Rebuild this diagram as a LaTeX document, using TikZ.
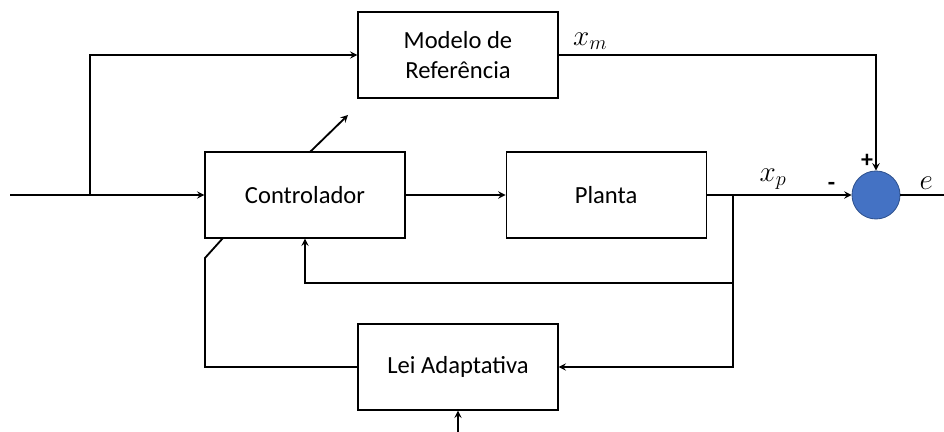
\documentclass[tikz,border=0pt]{standalone}
\usepackage{fontspec}
\setmainfont{Carlito}
\usepackage{tikz}
\usetikzlibrary{positioning,shapes,arrows}
\tikzstyle{block} = [rectangle, minimum width=5cm, minimum height=2.15cm, text centered, align=center, draw=black, line width=0.8pt, font=\fontsize{17.5}{21.5}\selectfont]
\tikzstyle{soma} = [circle, minimum size=1.2cm, draw={rgb,255:red,47;green,82;blue,143}, line width=0.6pt, fill={rgb,255:red,68;green,114;blue,196}]
\tikzstyle{arrow} = [line width=1.3pt,->,>=stealth]
\tikzstyle{line} = [line width=1.3pt]
\tikzstyle{lbl} = [font=\fontsize{20}{24}\selectfont]

\begin{document}
\begin{tikzpicture}
          \useasboundingbox (0,0) rectangle (23.6,10.8);
          \node (ctrl) [block] at (7.625,5.925) {Controlador};
          \node (planta) [block, right=2.5cm of ctrl] {Planta};
          \node (modelo) [block] at (11.45,9.425) {Modelo de\\Referência};
          \node (lei) [block] at (11.45,1.625) {Lei Adaptativa};
          \node (sum) [soma] at (21.9,5.925) {};
          \coordinate (in) at (0.25,5.925);
          \coordinate (br1) at (2.25,5.925);
          \coordinate (br2) at (18.325,5.925);
          \coordinate (fb) at (18.325,3.725);
          \coordinate (out) at (23.6,5.925);
          \coordinate (k1) at (5.125,4.35);
          \coordinate (k2) at (5.575,4.85);
          \coordinate (g1) at (7.75,7.0);
          \coordinate (g2) at (8.7,7.925);
          \coordinate (adin) at (11.45,0);
          \draw [arrow] (in) -- (ctrl.west);
          \draw [arrow] (br1) |- (modelo.west);
          \draw [arrow] (ctrl) -- (planta);
          \draw [arrow] (planta.east) -- node[lbl, above, xshift=-0.15cm] {$x_p$} (sum.west);
          \draw [arrow] (modelo.east) -| node[lbl, pos=0.05, above] {$x_m$} (sum.north);
          \draw [line] (sum.east) -- node[lbl, above, xshift=0.1cm] {$e$} (out);
          \node [anchor=south east, inner sep=2pt, font=\fontsize{17}{20}\selectfont\bfseries] at (sum.north) {+};
          \node [anchor=south east, inner sep=3pt, xshift=-0.3cm, font=\fontsize{17}{20}\selectfont\bfseries] at (sum.west) {-};
          \draw [arrow] (br2) |- (lei.east);
          \draw [arrow] (fb) -| (ctrl.south);
          \draw [line] (lei.west) -| (k1) -- (k2);
          \draw [arrow] (g1) -- (g2);
          \draw [arrow] (adin) -- (lei.south);
        \end{tikzpicture}
\end{document}
